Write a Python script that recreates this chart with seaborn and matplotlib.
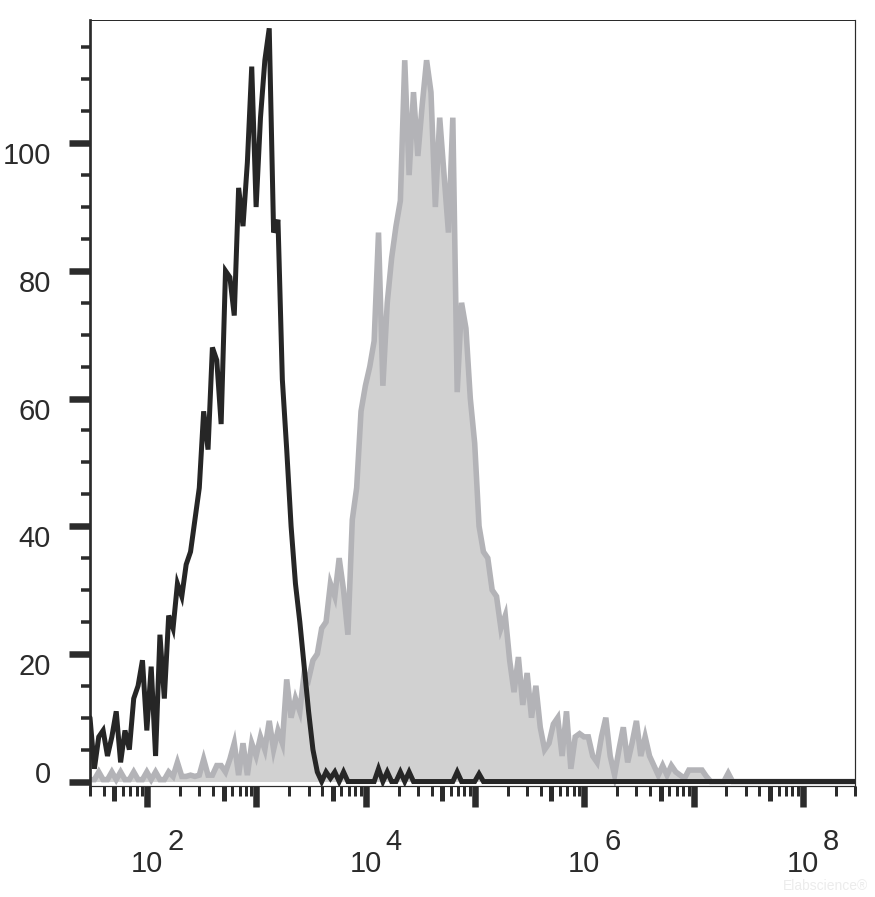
import numpy as np
import pandas as pd
import matplotlib
matplotlib.use("Agg")
import matplotlib.pyplot as plt
import matplotlib.transforms as mtransforms
from matplotlib.ticker import NullFormatter
import seaborn as sns

# ---- histogram channels (log10 of fluorescence), one value per display bin ----
LOG_START = 1.477
LOG_STEP = 0.04

# isotype control (black outline)
isotype_counts = [
    10, 2, 7, 8, 4, 7, 11, 3, 8, 5,
    13, 15, 19, 8, 18, 4, 23, 13, 26, 24,
    31, 29, 34, 36, 41, 46, 58, 52, 68, 66,
    56, 80, 79, 73, 93, 87, 97, 112, 90, 104,
    113, 118, 86, 88, 63, 52, 40, 31, 25, 18,
    11, 5, 1.5, 0, 1.5, 0.5, 1.5, 0, 1.5, 0,
    0, 0, 0, 0, 0, 0, 2, 0, 1.5, 0,
    0, 1.5, 0, 1.5, 0, 0, 0, 0, 0, 0,
    0, 0, 0, 0, 1.5, 0, 0, 0, 0, 1.2,
    0, 0, 0, 0, 0, 0, 0, 0, 0, 0,
    0, 0, 0, 0, 0, 0, 0, 0, 0, 0,
    0, 0, 0, 0, 0, 0, 0, 0, 0, 0,
    0, 0, 0, 0, 0, 0, 0, 0, 0, 0,
    0, 0, 0, 0, 0, 0, 0, 0, 0, 0,
    0, 0, 0, 0, 0, 0, 0, 0, 0, 0,
    0, 0, 0, 0, 0, 0, 0, 0, 0, 0,
    0, 0, 0, 0, 0, 0, 0, 0, 0, 0,
    0, 0, 0, 0, 0, 0,
]

# stained sample (grey filled)
stained_counts = [
    0.3, 0.3, 1.5, 0.3, 0.3, 1.5, 0.3, 1.5, 0.3, 0.3,
    1.5, 0.3, 0.3, 1.5, 0.3, 1.5, 0.3, 0.3, 1.5, 0.8,
    3, 0.8, 0.8, 1, 0.8, 1, 3.5, 1, 1, 2.5,
    2.5, 1.5, 3.5, 6, 1, 6, 1, 6, 4, 7,
    5, 9.5, 5, 8, 6, 16, 10, 13, 11, 17,
    16, 19, 20, 24, 25, 31, 29, 35, 30, 23,
    41, 46, 58, 62, 65, 69, 86, 62, 75, 82,
    87, 91, 113, 95, 108, 98, 106, 113, 108, 90,
    104, 95, 86, 104, 61, 75, 71, 60, 53, 40,
    36, 35, 30, 29, 24, 26, 19, 14, 19.5, 12,
    17, 10, 15, 8.5, 5, 6, 9, 10, 4, 11,
    2, 7, 7.5, 7, 7, 4, 3, 7, 10, 4,
    1, 5, 8.5, 3, 6, 9.5, 4, 7, 4, 2.5,
    1, 2.5, 1, 2.5, 1.5, 1, 0.5, 1.8, 1.8, 1.8,
    1.8, 0.8, 0, 0, 0, 0, 1.3, 0, 0, 0,
    0, 0, 0, 0, 0, 0, 0, 0, 0, 0,
    0, 0, 0, 0, 0, 0, 0, 0, 0, 0,
    0, 0, 0, 0, 0, 0,
]

y_major_ticks = [0, 20, 40, 60, 80, 100]
y_major_labels = ["0", "20", "40", "60", "80", "100"]
y_minor_ticks = [5, 10, 15, 25, 30, 35, 45, 50, 55, 65, 70, 75, 85, 90, 95, 105, 110, 115]
x_decades = [2, 3, 4, 5, 6, 7, 8]
x_labelled_decades = [2, 4, 6, 8]
x_mid_multiplier = 5
x_minor_multipliers = [2, 3, 4, 6, 7, 8, 9]

INK = "#2b2b2b"
BLACK_LINE = "#262626"
GREY_LINE = "#b3b3b7"
GREY_FILL = "#d1d1d1"

sns.set_style("white")
plt.rcParams["font.family"] = ["Liberation Sans", "DejaVu Sans"]

n = len(isotype_counts)
channel = 10 ** (LOG_START + LOG_STEP * np.arange(n))
df = pd.DataFrame({"channel": channel,
                   "isotype": isotype_counts,
                   "stained": stained_counts})

W, H = 875, 897
fig = plt.figure(figsize=(W / 100, H / 100), dpi=100)
L, R, T, B = 90, 855, 20, 786
ax = fig.add_axes([L / W, (H - B) / H, (R - L) / W, (B - T) / H])
ax.set_xscale("log")

# grey filled histogram
ax.fill_between(df["channel"], df["stained"], 0, color=GREY_FILL, lw=0, zorder=1)
sns.lineplot(data=df, x="channel", y="stained", ax=ax, color=GREY_LINE,
             lw=4.0, estimator=None, sort=False, zorder=2,
             solid_joinstyle="miter")
# black outline histogram
sns.lineplot(data=df, x="channel", y="isotype", ax=ax, color=BLACK_LINE,
             lw=3.6, estimator=None, sort=False, zorder=3,
             solid_joinstyle="miter")

xmin = 10 ** LOG_START
xmax = 10 ** (LOG_START + 7.0)
ax.set_xlim(xmin, xmax)
ax.set_ylim(-0.7, 119.3)
ax.set_xlabel("")
ax.set_ylabel("")

# ---- y ticks ----
ax.set_yticks(y_major_ticks, labels=y_major_labels)
ax.set_yticks(y_minor_ticks, minor=True)
px = 72 / 100  # points per pixel
ax.tick_params(axis="y", which="major", direction="out", length=21 * px,
               width=6.5 * px, color=INK, pad=18 * px, labelsize=21,
               labelcolor=INK, left=True)
ax.tick_params(axis="y", which="minor", direction="out", length=9.5 * px,
               width=3.5 * px, color=INK, left=True)

# ---- x ticks ----
decade_locs = [10.0 ** e for e in x_decades]
mid_locs = [x_mid_multiplier * 10.0 ** e for e in range(1, 9)
            if xmin <= x_mid_multiplier * 10.0 ** e <= xmax]
major_locs = decade_locs + mid_locs
major_labels = ["10" if e in x_labelled_decades else "" for e in x_decades] + [""] * len(mid_locs)
minor_locs = [m * 10.0 ** e for e in range(1, 9) for m in x_minor_multipliers
              if xmin * 0.999 <= m * 10.0 ** e <= xmax * 1.001]
ax.set_xticks(major_locs, labels=major_labels)
ax.set_xticks(minor_locs, minor=True)
ax.xaxis.set_minor_formatter(NullFormatter())
ax.tick_params(axis="x", which="major", direction="out", length=21 * px,
               width=6.5 * px, color=INK, pad=43 * px, labelsize=21,
               labelcolor=INK, bottom=True)
ax.tick_params(axis="x", which="minor", direction="out", length=10 * px,
               width=3 * px, color=INK, bottom=True)
for i, t in enumerate(ax.xaxis.get_major_ticks()):
    if i >= len(decade_locs):
        t.tick1line.set_markersize(15 * px)
        t.tick1line.set_markeredgewidth(5 * px)

# exponents of the x labels (drawn as raised text)
for e in x_labelled_decades:
    ax.annotate(str(e), xy=(10.0 ** e, 0), xycoords=("data", "axes fraction"),
                xytext=(20 * px, -64 * px), textcoords="offset points",
                ha="left", va="baseline", fontsize=21, color=INK,
                annotation_clip=False)

# y label vertical offsets
for t, v in zip(ax.yaxis.get_major_ticks(), y_major_ticks):
    dy = 10 if v == 0 else -10
    off = mtransforms.ScaledTranslation(0, dy / 100, fig.dpi_scale_trans)
    t.label1.set_transform(t.label1.get_transform() + off)

# spines
for side, lw in [("left", 2.7), ("top", 1.0), ("right", 1.2), ("bottom", 1.2)]:
    ax.spines[side].set_visible(True)
    ax.spines[side].set_color(INK)
    ax.spines[side].set_linewidth(lw * px)

fig.text(868 / W, 1 - 886 / H, "Elabscience\u00ae", color="#ececec", fontsize=10,
         ha="right", va="center", zorder=0)

fig.savefig("out.png", dpi=100, facecolor="white")
